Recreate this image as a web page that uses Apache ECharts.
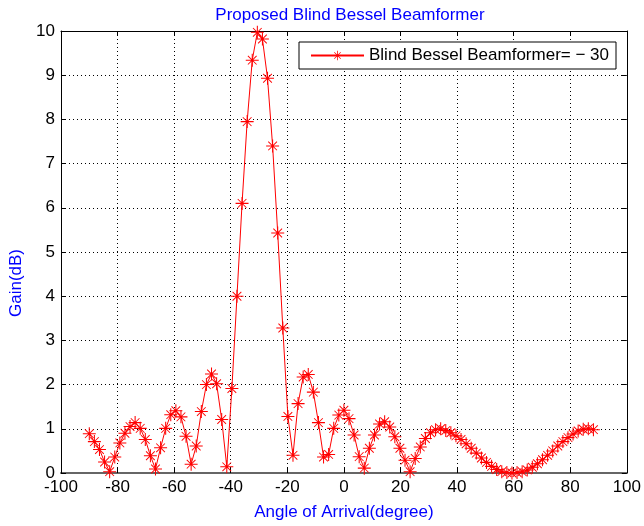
<!DOCTYPE html>
<html>
<head>
<meta charset="utf-8">
<script src="https://cdn.jsdelivr.net/npm/echarts@6/dist/echarts.min.js"></script>
<style>
  html, body { margin: 0; padding: 0; background: #fff; }
  #chart { width: 644px; height: 526px; }
</style>
</head>
<body>
<div id="chart"></div>
<script>
// angle of arrival (degree)
const angles = [
  -90, -88.2, -86.4, -84.6, -82.8, -81, -79.2, -77.4, -75.6, -73.8,
  -72, -70.2, -68.4, -66.6, -64.8, -63, -61.2, -59.4, -57.6, -55.8,
  -54, -52.2, -50.4, -48.6, -46.8, -45, -43.2, -41.4, -39.6, -37.8,
  -36, -34.2, -32.4, -30.6, -28.8, -27, -25.2, -23.4, -21.6, -19.8,
  -18, -16.2, -14.4, -12.6, -10.8, -9, -7.2, -5.4, -3.6, -1.8,
  0, 1.8, 3.6, 5.4, 7.2, 9, 10.8, 12.6, 14.4, 16.2,
  18, 19.8, 21.6, 23.4, 25.2, 27, 28.8, 30.6, 32.4, 34.2,
  36, 37.8, 39.6, 41.4, 43.2, 45, 46.8, 48.6, 50.4, 52.2,
  54, 55.8, 57.6, 59.4, 61.2, 63, 64.8, 66.6, 68.4, 70.2,
  72, 73.8, 75.6, 77.4, 79.2, 81, 82.8, 84.6, 86.4, 88.2
];
// gain (dB)
const gains = [
  0.89, 0.71, 0.53, 0.25, 0.03, 0.36, 0.68, 0.90, 1.05, 1.14,
  1.01, 0.76, 0.39, 0.09, 0.57, 1.01, 1.32, 1.41, 1.27, 0.83,
  0.20, 0.61, 1.39, 2.00, 2.24, 2.02, 1.21, 0.14, 1.91, 4.00,
  6.10, 7.95, 9.34, 9.97, 9.82, 8.93, 7.40, 5.43, 3.28, 1.28,
  0.40, 1.57, 2.17, 2.23, 1.83, 1.14, 0.36, 0.42, 1.01, 1.31,
  1.42, 1.23, 0.86, 0.37, 0.11, 0.56, 0.86, 1.11, 1.16, 1.04,
  0.82, 0.56, 0.29, 0.03, 0.33, 0.59, 0.78, 0.91, 0.98, 1.00,
  0.96, 0.91, 0.84, 0.76, 0.66, 0.56, 0.45, 0.34, 0.24, 0.15,
  0.08, 0.03, 0.01, 0.00, 0.01, 0.03, 0.07, 0.13, 0.21, 0.30,
  0.40, 0.50, 0.61, 0.71, 0.80, 0.88, 0.95, 0.99, 1.00, 0.98
];
const seriesName = 'Blind Bessel Beamformer= \u2212 30';

// matlab '*' marker
const asterisk = 'path://M0 9.2L20 9.2L20 10.8L0 10.8Z' +
  'M9.2 0L10.8 0L10.8 20L9.2 20Z' +
  'M3.8 2.8L17.2 16.2L16.2 17.2L2.8 3.8Z' +
  'M16.2 2.8L17.2 3.8L3.8 17.2L2.8 16.2Z';

const myChart = echarts.init(document.getElementById('chart'));
const font = 'Liberation Sans, Arial, sans-serif';
const gridLine = { show: true, lineStyle: { color: '#000', type: [1, 3], width: 1 } };
const tick = { show: true, inside: true, length: 5, lineStyle: { color: '#000' } };

const option = {
  backgroundColor: '#fff',
  animation: false,
  title: {
    text: 'Proposed Blind Bessel Beamformer',
    left: 345,
    textAlign: 'center',
    top: 2,
    textStyle: { color: '#0000ff', fontSize: 17, fontWeight: 'normal', fontFamily: font },
  },
  legend: {
    left: 299,
    top: 42,
    orient: 'vertical',
    backgroundColor: '#fff',
    borderColor: '#000',
    borderWidth: 1,
    borderRadius: 0,
    padding: [5, 7, 5, 11],
    itemWidth: 53,
    itemHeight: 12,
    textStyle: { color: '#000', fontSize: 17, fontFamily: font },
    data: [seriesName],
  },
  grid: {
    left: 61,
    right: 14,
    top: 31,
    bottom: 50,
  },
  xAxis: [{
    type: 'value',
    min: -100,
    max: 100,
    interval: 20,
    name: 'Angle of Arrival(degree)',
    nameLocation: 'middle',
    nameGap: 31,
    nameTextStyle: { color: '#0000ff', fontSize: 17, fontFamily: font },
    axisLine: { show: true, onZero: false, lineStyle: { color: '#666', width: 2 } },
    axisTick: tick,
    axisLabel: { color: '#000', fontSize: 17, fontFamily: font, margin: 6 },
    splitLine: gridLine,
  }, {
    type: 'value',
    position: 'top',
    min: -100,
    max: 100,
    interval: 20,
    axisLine: { show: true, onZero: false, lineStyle: { color: '#000', width: 1 } },
    axisTick: tick,
    axisLabel: { show: false },
    splitLine: { show: false },
  }],
  yAxis: [{
    type: 'value',
    min: 0,
    max: 10,
    interval: 1,
    name: 'Gain(dB)',
    nameLocation: 'middle',
    nameGap: 25,
    nameTextStyle: { color: '#0000ff', fontSize: 17, fontFamily: font, padding: [0, 62, 0, 0] },
    axisLine: { show: true, onZero: false, lineStyle: { color: '#000', width: 1 } },
    axisTick: tick,
    axisLabel: { color: '#000', fontSize: 17, fontFamily: font, margin: 6 },
    splitLine: gridLine,
  }, {
    type: 'value',
    position: 'right',
    min: 0,
    max: 10,
    interval: 1,
    axisLine: { show: true, onZero: false, lineStyle: { color: '#000', width: 1 } },
    axisTick: tick,
    axisLabel: { show: false },
    splitLine: { show: false },
  }],
  series: [{
    name: seriesName,
    type: 'line',
    xAxisIndex: 0,
    yAxisIndex: 0,
    data: angles.map((a, i) => [a, gains[i]]),
    symbol: asterisk,
    symbolSize: 13,
    showAllSymbol: true,
    lineStyle: { color: '#ff0000', width: 1 },
    itemStyle: { color: '#ff0000' },
  }],
};
myChart.setOption(option);
</script>
</body>
</html>
